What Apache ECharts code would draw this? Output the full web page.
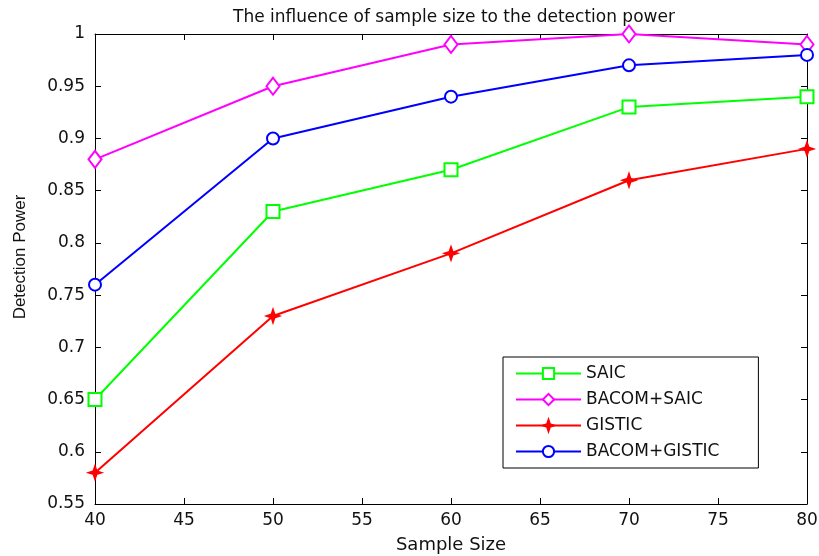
<!DOCTYPE html>
<html>
<head>
<meta charset="utf-8">
<script src="https://cdn.jsdelivr.net/npm/echarts@6/dist/echarts.min.js"></script>
<style>
  html, body { margin: 0; padding: 0; background: #fff; }
  #main { width: 819px; height: 556px; }
</style>
</head>
<body>
<div id="main"></div>
<script>
var sampleSizes = [40, 50, 60, 70, 80];
var saic = [0.65, 0.83, 0.87, 0.93, 0.94];
var bacomSaic = [0.88, 0.95, 0.99, 1.0, 0.99];
var gistic = [0.58, 0.73, 0.79, 0.86, 0.89];
var bacomGistic = [0.76, 0.90, 0.94, 0.97, 0.98];

var font = 'DejaVu Sans, sans-serif';

function pairs(vals) {
    return sampleSizes.map(function (x, i) { return [x, vals[i]]; });
}

// 星形标记（GISTIC）
var starPath = 'path://M0,-10 L2.5,-2.5 L10,0 L2.5,2.5 L0,10 L-2.5,2.5 L-10,0 L-2.5,-2.5 Z';

function makeSeries(name, vals, color, symbol, size) {
    return {
        name: name,
        type: 'line',
        data: pairs(vals),
        symbol: symbol,
        symbolSize: size,
        showAllSymbol: true,
        lineStyle: { color: color, width: 2 },
        itemStyle: { color: color, borderColor: color, borderWidth: 2 },
        animation: false,
        z: 3
    };
}

var chart = echarts.init(document.getElementById('main'));

var axisLine = { show: true, lineStyle: { color: '#000', width: 1 } };
var axisTick = { show: true, inside: true, length: 6, lineStyle: { color: '#000' } };

chart.setOption({
    backgroundColor: '#fff',
    title: {
        text: 'The influence of sample size to the detection power',
        left: 449,
        textAlign: 'center',
        top: 4,
        textStyle: { fontFamily: font, fontSize: 17, fontWeight: 'normal', color: '#111' }
    },
    grid: { left: 95, right: 12, top: 34, bottom: 52, outerBoundsMode: 'none', containLabel: false },
    legend: {
        orient: 'vertical',
        left: 503,
        top: 357,
        padding: [8, 39, 8, 12],
        itemWidth: 65,
        itemHeight: 14,
        itemGap: 9,
        borderColor: '#000',
        borderWidth: 1,
        backgroundColor: '#fff',
        textStyle: { fontFamily: font, fontSize: 17, color: '#111' },
        data: ['SAIC', 'BACOM+SAIC', 'GISTIC', 'BACOM+GISTIC']
    },
    xAxis: [{
        type: 'value',
        min: 40,
        max: 80,
        interval: 5,
        name: 'Sample Size',
        nameLocation: 'middle',
        nameGap: 32,
        nameTextStyle: { fontFamily: font, fontSize: 18, color: '#111' },
        axisLine: axisLine,
        axisTick: axisTick,
        splitLine: { show: false },
        axisLabel: { fontFamily: font, fontSize: 17, color: '#111', margin: 8 }
    }, {
        type: 'value',
        position: 'top',
        min: 40,
        max: 80,
        interval: 5,
        axisLine: axisLine,
        axisTick: axisTick,
        splitLine: { show: false },
        axisLabel: { show: false }
    }],
    yAxis: [{
        type: 'value',
        min: 0.55,
        max: 1,
        interval: 0.05,
        name: 'Detection Power',
        nameLocation: 'middle',
        nameGap: 66,
        nameTextStyle: {
            fontFamily: 'Liberation Sans Narrow, Liberation Sans, sans-serif',
            fontSize: 17, color: '#111', padding: [0, 0, 0, 24]
        },
        axisLine: axisLine,
        axisTick: axisTick,
        splitLine: { show: false },
        axisLabel: {
            fontFamily: font, fontSize: 17, color: '#111', margin: 10,
            formatter: function (v) { return String(Math.round(v * 100) / 100); }
        }
    }, {
        type: 'value',
        position: 'right',
        min: 0.55,
        max: 1,
        interval: 0.05,
        axisLine: axisLine,
        axisTick: axisTick,
        splitLine: { show: false },
        axisLabel: { show: false }
    }],
    series: [
        makeSeries('SAIC', saic, '#00ff00', 'emptyRect', 13),
        makeSeries('BACOM+SAIC', bacomSaic, '#ff00ff', 'emptyDiamond', [13, 17]),
        makeSeries('GISTIC', gistic, '#ff0000', starPath, 12),
        makeSeries('BACOM+GISTIC', bacomGistic, '#0000ff', 'emptyCircle', 12)
    ]
});
</script>
</body>
</html>
